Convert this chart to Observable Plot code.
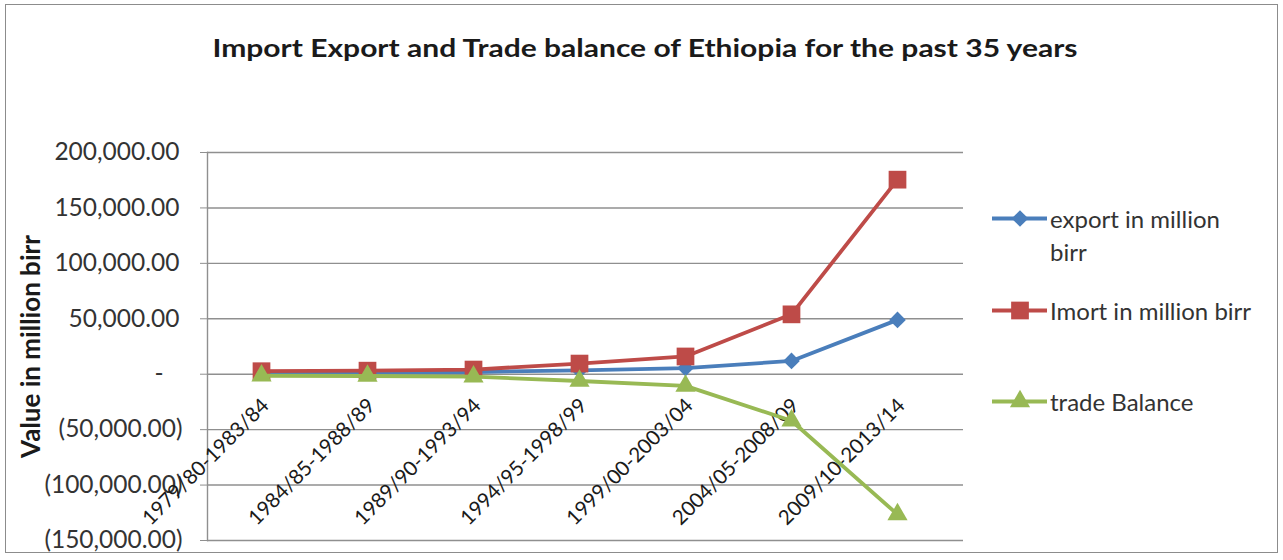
<!DOCTYPE html>
<html>
<head>
<meta charset="utf-8">
<script src="https://cdn.jsdelivr.net/npm/d3@7"></script>
<script src="https://cdn.jsdelivr.net/npm/@observablehq/plot@0.6"></script>
<style>
  html, body { margin: 0; padding: 0; background: #fff; }
  #wrap { position: relative; width: 1283px; height: 560px; overflow: hidden; font-family: Lato, "Open Sans", sans-serif; }
  #border { position: absolute; left: 5px; top: 4px; width: 1273px; height: 549px; border: 1.5px solid #8c8c8c; box-sizing: border-box; pointer-events: none; }
  #title { position: absolute; left: 0; top: 32px; width: 1290px; text-align: center; font-size: 25px; line-height: 30px; font-weight: bold; color: #1a1a1a; transform: scaleX(1.2); transform-origin: 645px 0; }
  #legend { position: absolute; left: 990px; top: 0; width: 290px; font-size: 24px; color: #333; }
  .item { position: absolute; left: 0; display: flex; align-items: flex-start; }
  .item svg { flex: none; }
  .item span { line-height: 33px; margin-left: 2px; }
</style>
</head>
<body>
<div id="wrap">
  <div id="chart"></div>
  <div id="title">Import Export and Trade balance of Ethiopia for the past 35 years</div>
  <div id="legend"></div>
  <div id="border"></div>
</div>
<script>
const periods = ["1979/80-1983/84", "1984/85-1988/89", "1989/90-1993/94", "1994/95-1998/99", "1999/00-2003/04", "2004/05-2008/09", "2009/10-2013/14"];
const exportVals = [1300, 1600, 2000, 3500, 5500, 12000, 49000];
const importVals = [2700, 3200, 4200, 9600, 16000, 54000, 175500];
const balanceVals = [-1400, -1600, -2200, -6100, -10500, -42000, -126500];
const seriesNames = ["export in million birr", "Imort in million birr", "trade Balance"];
const seriesColors = ["#4A7EBB", "#BE4B48", "#98B954"];
const seriesSymbols = ["diamond2", "square", "triangle"];
const symbolRadii = [7.5, 10, 7.5];
const yTicks = [-150000, -100000, -50000, 0, 50000, 100000, 150000, 200000];

const seriesValues = [exportVals, importVals, balanceVals];
const rows = [];
seriesValues.forEach((vals, s) => {
  vals.forEach((v, i) => rows.push({period: periods[i], value: v, series: seriesNames[s]}));
});

const fmt = d3.format(",.2f");
const nb = "\u00a0";
const tickFmt = d => d === 0 ? "-" + nb + nb + nb : d < 0 ? `(${fmt(-d)})` : fmt(d) + "\u2009";

const seriesMarks = seriesNames.flatMap((name, s) => {
  const data = rows.filter(r => r.series === name);
  return [
    Plot.line(data, {x: "period", y: "value", stroke: seriesColors[s], strokeWidth: 3.8}),
    Plot.dot(data, {x: "period", y: "value", symbol: () => seriesSymbols[s], fill: seriesColors[s], stroke: null, r: symbolRadii[s]})
  ];
});

const plot = Plot.plot({
  width: 1283,
  height: 560,
  marginLeft: 207,
  marginRight: 320,
  marginTop: 152,
  marginBottom: 20,
  style: {fontFamily: "Lato, 'Open Sans', sans-serif", background: "transparent"},
  x: {type: "point", domain: periods, padding: 0.5, insetRight: 13, axis: null},
  y: {domain: [-150000, 200000], axis: null},
  symbol: {type: "identity"},
  marks: [
    Plot.ruleY(yTicks, {stroke: "#8f8f8f", strokeWidth: 1.4}),
    Plot.frame({anchor: "left", stroke: "#8f8f8f", strokeWidth: 1.4}),
    Plot.axisY(yTicks, {tickFormat: tickFmt, tickSize: 7, tickPadding: 18, fontSize: 24.5, fill: "#333", stroke: "#8f8f8f", label: null}),
    Plot.text(["Value in million birr"], {frameAnchor: "left", textAnchor: "middle", rotate: -90, dx: -176, dy: 0, fontSize: 26, fontWeight: "bold", fill: "#1a1a1a"}),
    Plot.text(periods, {x: d => d, y: () => 0, rotate: -45, textAnchor: "end", dx: 4, dy: 28, fontSize: 20.5, fill: "#1a1a1a"}),
    ...seriesMarks
  ]
});
document.getElementById("chart").appendChild(plot);

// legend
const legendTops = [202, 294, 385];
const legend = document.getElementById("legend");
seriesNames.forEach((name, i) => {
  const item = document.createElement("div");
  item.className = "item";
  item.style.top = legendTops[i] + "px";
  const svg = d3.create("svg").attr("width", 58).attr("height", 33);
  svg.append("line").attr("x1", 2).attr("x2", 57).attr("y1", 16.5).attr("y2", 16.5)
    .attr("stroke", seriesColors[i]).attr("stroke-width", 3.8);
  const sym = {diamond2: d3.symbolDiamond2, square: d3.symbolSquare, triangle: d3.symbolTriangle}[seriesSymbols[i]];
  svg.append("path").attr("transform", "translate(30,16.5)")
    .attr("d", d3.symbol(sym, Math.PI * symbolRadii[i] * symbolRadii[i])()).attr("fill", seriesColors[i]);
  item.appendChild(svg.node());
  const span = document.createElement("span");
  span.textContent = name;
  span.style.display = "inline-block";
  span.style.width = i === 0 ? "185px" : "240px";
  item.appendChild(span);
  legend.appendChild(item);
});
</script>
</body>
</html>
